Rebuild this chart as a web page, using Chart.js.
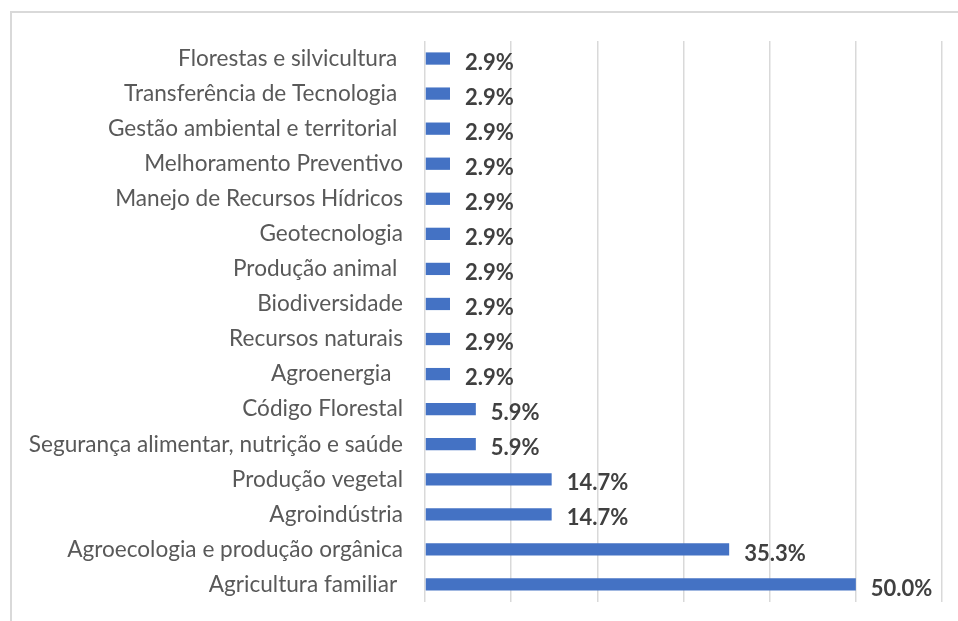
<!DOCTYPE html>
<html>
<head>
<meta charset="utf-8">
<script src="https://cdn.jsdelivr.net/npm/chart.js@4"></script>
<style>
  html, body { margin: 0; padding: 0; background: #fff; }
  #wrap { position: relative; width: 958px; height: 621px; }
  #frame { position: absolute; left: 10px; top: 11px; width: 1000px; height: 700px; border: 2px solid #d9d9d9; box-sizing: border-box; pointer-events: none; }
</style>
</head>
<body>
<div id="wrap">
  <canvas id="chart" width="958" height="621"></canvas>
  <div id="frame"></div>
</div>
<script>
// categories, top to bottom
const categories = [
    "Florestas e silvicultura ",
    "Transferência de Tecnologia ",
    "Gestão ambiental e territorial ",
    "Melhoramento Preventivo",
    "Manejo de Recursos Hídricos",
    "Geotecnologia",
    "Produção animal ",
    "Biodiversidade",
    "Recursos naturais",
    "Agroenergia  ",
    "Código Florestal",
    "Segurança alimentar, nutrição e saúde",
    "Produção vegetal",
    "Agroindústria",
    "Agroecologia e produção orgânica",
    "Agricultura familiar "
];
const shares = [2.9, 2.9, 2.9, 2.9, 2.9, 2.9, 2.9, 2.9, 2.9, 2.9, 5.9, 5.9, 14.7, 14.7, 35.3, 50.0];

const FONT = "Lato, 'Open Sans', sans-serif";

// draws the bold value labels right of each bar
const valueLabels = {
    id: 'valueLabels',
    afterDatasetsDraw(chart) {
        const ctx = chart.ctx;
        const meta = chart.getDatasetMeta(0);
        ctx.save();
        ctx.font = "bold 22px " + FONT;
        ctx.fillStyle = '#404040';
        ctx.textAlign = 'left';
        ctx.textBaseline = 'middle';
        meta.data.forEach((bar, i) => {
            ctx.fillText(shares[i].toFixed(1) + '%', bar.x + 15, bar.y + 4);
        });
        ctx.restore();
    }
};

new Chart(document.getElementById('chart').getContext('2d'), {
    type: 'bar',
    data: {
        labels: categories,
        datasets: [{
            data: shares,
            backgroundColor: '#4472C4',
            barPercentage: 0.7,
            categoryPercentage: 0.5
        }]
    },
    options: {
        indexAxis: 'y',
        responsive: false,
        animation: false,
        layout: { padding: { top: 41, right: 16, left: 0, bottom: 0 } },
        plugins: {
            legend: { display: false },
            tooltip: { enabled: false }
        },
        scales: {
            x: {
                min: 0,
                max: 60,
                ticks: { display: false, stepSize: 10 },
                grid: { color: '#d9d9d9', lineWidth: 1.5, drawTicks: false },
                border: { display: false },
                afterFit(scale) { scale.height = 19; }
            },
            y: {
                ticks: {
                    color: '#595959',
                    font: { family: FONT, size: 22.6 },
                    padding: 22
                },
                grid: { display: false, drawTicks: false },
                border: { display: false },
                afterFit(scale) {
                    scale.width = 425;
                    scale.paddingTop = 0;
                    scale.paddingBottom = 0;
                }
            }
        }
    },
    plugins: [valueLabels]
});
</script>
</body>
</html>
